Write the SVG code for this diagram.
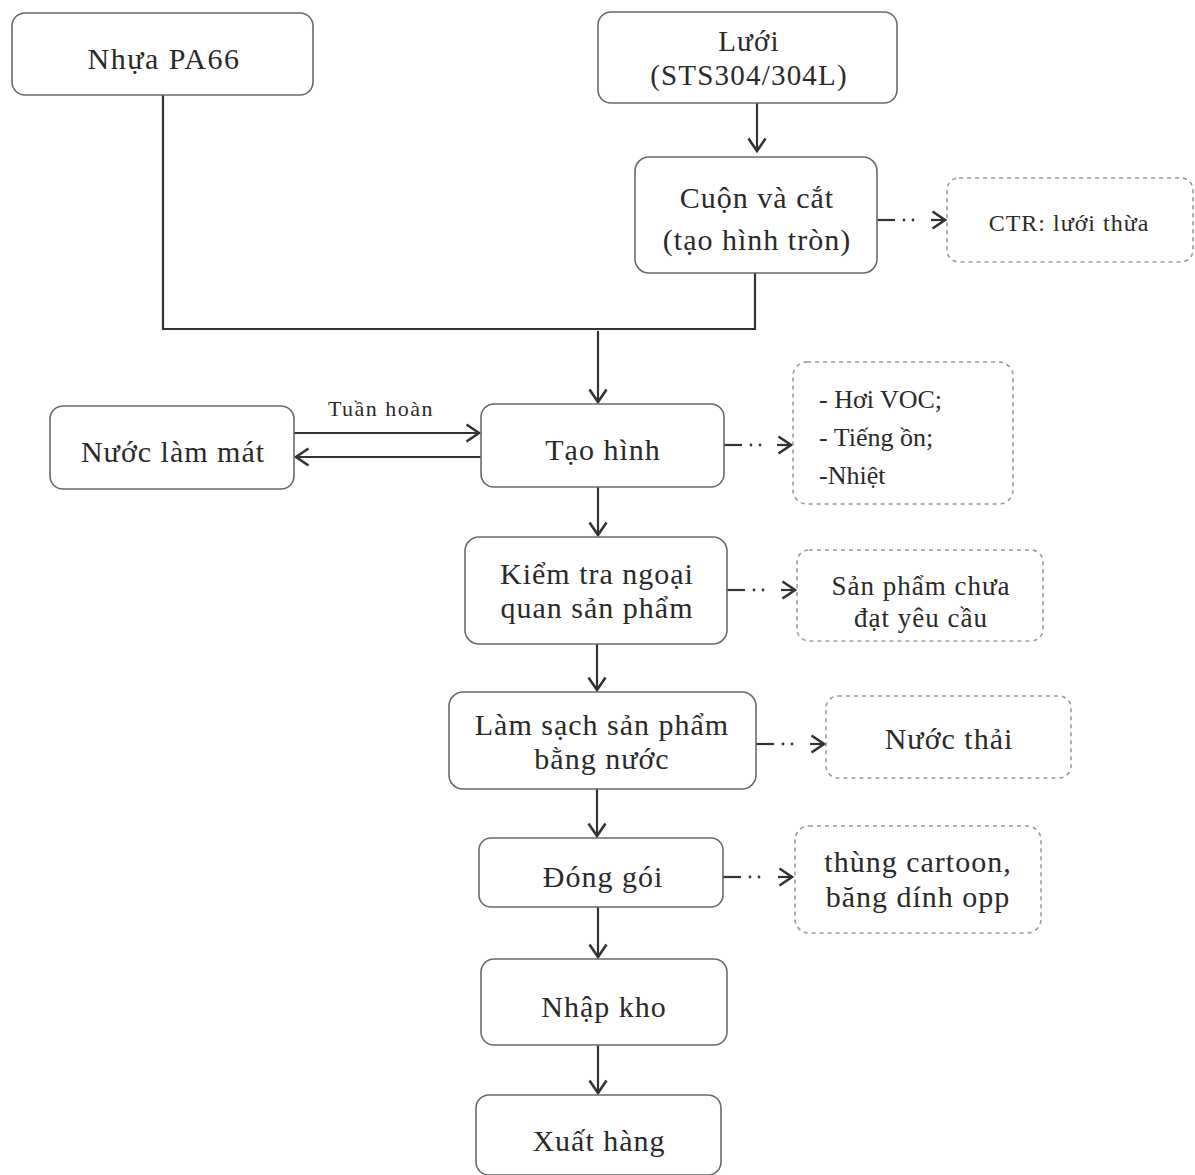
<svg xmlns="http://www.w3.org/2000/svg" width="1195" height="1175" viewBox="0 0 1195 1175">
  <style>
    .box { fill: #fff; stroke: #6a6a6a; stroke-width: 1.6; }
    .dbox { fill: #fff; stroke: #9a9a9a; stroke-width: 1.6; stroke-dasharray: 4 4; }
    .t { font-family: "Liberation Serif", "Times New Roman", serif; font-size: 30px; letter-spacing: 1px; fill: #2a2a2a; text-anchor: middle; }
    .s { font-family: "Liberation Serif", "Times New Roman", serif; font-size: 26px; fill: #2a2a2a; text-anchor: middle; }
    .l { text-anchor: start; }
    .ln { fill: none; stroke: #333; stroke-width: 2.2; }
    .dot { fill: none; stroke: #333; stroke-width: 2.8; stroke-linecap: round; stroke-dasharray: 0 9; }
  </style>
  <defs>
    <marker id="arr" viewBox="0 0 16 20" refX="14" refY="10" markerWidth="16" markerHeight="20" markerUnits="userSpaceOnUse" orient="auto">
      <path d="M1.5,1.5 L14,10 L1.5,18.5" fill="none" stroke="#333" stroke-width="2.6"/>
    </marker>
  </defs>
  <rect width="1195" height="1175" fill="#fff"/>

  <!-- connectors -->
  <g id="connectors">
    <path class="ln" d="M163,95 V329 H755 V273"/>
    <path class="ln" d="M757,103 V151" marker-end="url(#arr)"/>
    <path class="ln" d="M598,331 V402" marker-end="url(#arr)"/>
    <path class="ln" d="M294,433 H479" marker-end="url(#arr)"/>
    <path class="ln" d="M481,457 H296" marker-end="url(#arr)"/>
    <path class="ln" d="M598,487 V535" marker-end="url(#arr)"/>
    <path class="ln" d="M597,644 V690" marker-end="url(#arr)"/>
    <path class="ln" d="M597,789 V836" marker-end="url(#arr)"/>
    <path class="ln" d="M598,907 V957" marker-end="url(#arr)"/>
    <path class="ln" d="M598,1045 V1093" marker-end="url(#arr)"/>

    <!-- dotted side outputs: dash, dots, arrowhead -->
    <path class="ln" d="M877,220 H895"/>
    <path class="dot" d="M904,220 H922"/>
    <path class="ln" d="M931,220 H945" marker-end="url(#arr)"/>

    <path class="ln" d="M724,445 H742"/>
    <path class="dot" d="M751,445 H769"/>
    <path class="ln" d="M777,445 H791" marker-end="url(#arr)"/>

    <path class="ln" d="M727,590 H745"/>
    <path class="dot" d="M754,590 H772"/>
    <path class="ln" d="M781,590 H795" marker-end="url(#arr)"/>

    <path class="ln" d="M756,744 H774"/>
    <path class="dot" d="M783,744 H801"/>
    <path class="ln" d="M810,744 H824" marker-end="url(#arr)"/>

    <path class="ln" d="M723,877 H741"/>
    <path class="dot" d="M750,877 H768"/>
    <path class="ln" d="M778,877 H792" marker-end="url(#arr)"/>

    <text class="s" x="381" y="416" style="font-size:22px;letter-spacing:1.5px">Tuần hoàn</text>
  </g>

  <g id="nhua">
    <rect class="box" x="12" y="13" width="301" height="82" rx="13"/>
    <text class="t" x="164" y="69" style="letter-spacing:1.5px">Nhựa PA66</text>
  </g>
  <g id="luoi">
    <rect class="box" x="598" y="12" width="299" height="91" rx="13"/>
    <text class="t" x="749" y="51" style="font-size:29px;letter-spacing:1.2px">Lưới</text>
    <text class="t" x="749" y="85" style="font-size:29px;letter-spacing:1.2px">(STS304/304L)</text>
  </g>
  <g id="cuon">
    <rect class="box" x="635" y="157" width="242" height="116" rx="14"/>
    <text class="t" x="757" y="208">Cuộn và cắt</text>
    <text class="t" x="757" y="250">(tạo hình tròn)</text>
  </g>
  <g id="ctr">
    <rect class="dbox" x="947" y="178" width="246" height="84" rx="12"/>
    <text class="s" x="1069" y="231" style="font-size:24px;letter-spacing:1px">CTR: lưới thừa</text>
  </g>
  <g id="nuoc-lam-mat">
    <rect class="box" x="50" y="406" width="244" height="83" rx="13"/>
    <text class="t" x="173" y="462">Nước làm mát</text>
  </g>
  <g id="tao-hinh">
    <rect class="box" x="481" y="404" width="243" height="83" rx="13"/>
    <text class="t" x="603" y="460">Tạo hình</text>
  </g>
  <g id="khi-thai">
    <rect class="dbox" x="793" y="362" width="220" height="142" rx="14"/>
    <text class="s l" x="819" y="408">- Hơi VOC;</text>
    <text class="s l" x="819" y="446">- Tiếng ồn;</text>
    <text class="s l" x="819" y="484">-Nhiệt</text>
  </g>
  <g id="kiem-tra">
    <rect class="box" x="465" y="537" width="262" height="107" rx="14"/>
    <text class="t" x="597" y="584">Kiểm tra ngoại</text>
    <text class="t" x="597" y="618">quan sản phẩm</text>
  </g>
  <g id="sp-loi">
    <rect class="dbox" x="797" y="550" width="246" height="91" rx="12"/>
    <text class="s" x="921" y="595" style="font-size:27px;letter-spacing:1px">Sản phẩm chưa</text>
    <text class="s" x="921" y="627" style="font-size:27px;letter-spacing:1px">đạt yêu cầu</text>
  </g>
  <g id="lam-sach">
    <rect class="box" x="449" y="692" width="307" height="97" rx="14"/>
    <text class="t" x="602" y="735">Làm sạch sản phẩm</text>
    <text class="t" x="602" y="769">bằng nước</text>
  </g>
  <g id="nuoc-thai">
    <rect class="dbox" x="826" y="696" width="245" height="82" rx="12"/>
    <text class="t" x="949" y="749">Nước thải</text>
  </g>
  <g id="dong-goi">
    <rect class="box" x="479" y="838" width="244" height="69" rx="12"/>
    <text class="t" x="603" y="887">Đóng gói</text>
  </g>
  <g id="bao-bi">
    <rect class="dbox" x="795" y="826" width="246" height="107" rx="14"/>
    <text class="t" x="918" y="872">thùng cartoon,</text>
    <text class="t" x="918" y="907">băng dính opp</text>
  </g>
  <g id="nhap-kho">
    <rect class="box" x="481" y="959" width="246" height="86" rx="13"/>
    <text class="t" x="604" y="1017">Nhập kho</text>
  </g>
  <g id="xuat-hang">
    <rect class="box" x="476" y="1095" width="245" height="80" rx="13"/>
    <text class="t" x="599" y="1151">Xuất hàng</text>
  </g>
</svg>
